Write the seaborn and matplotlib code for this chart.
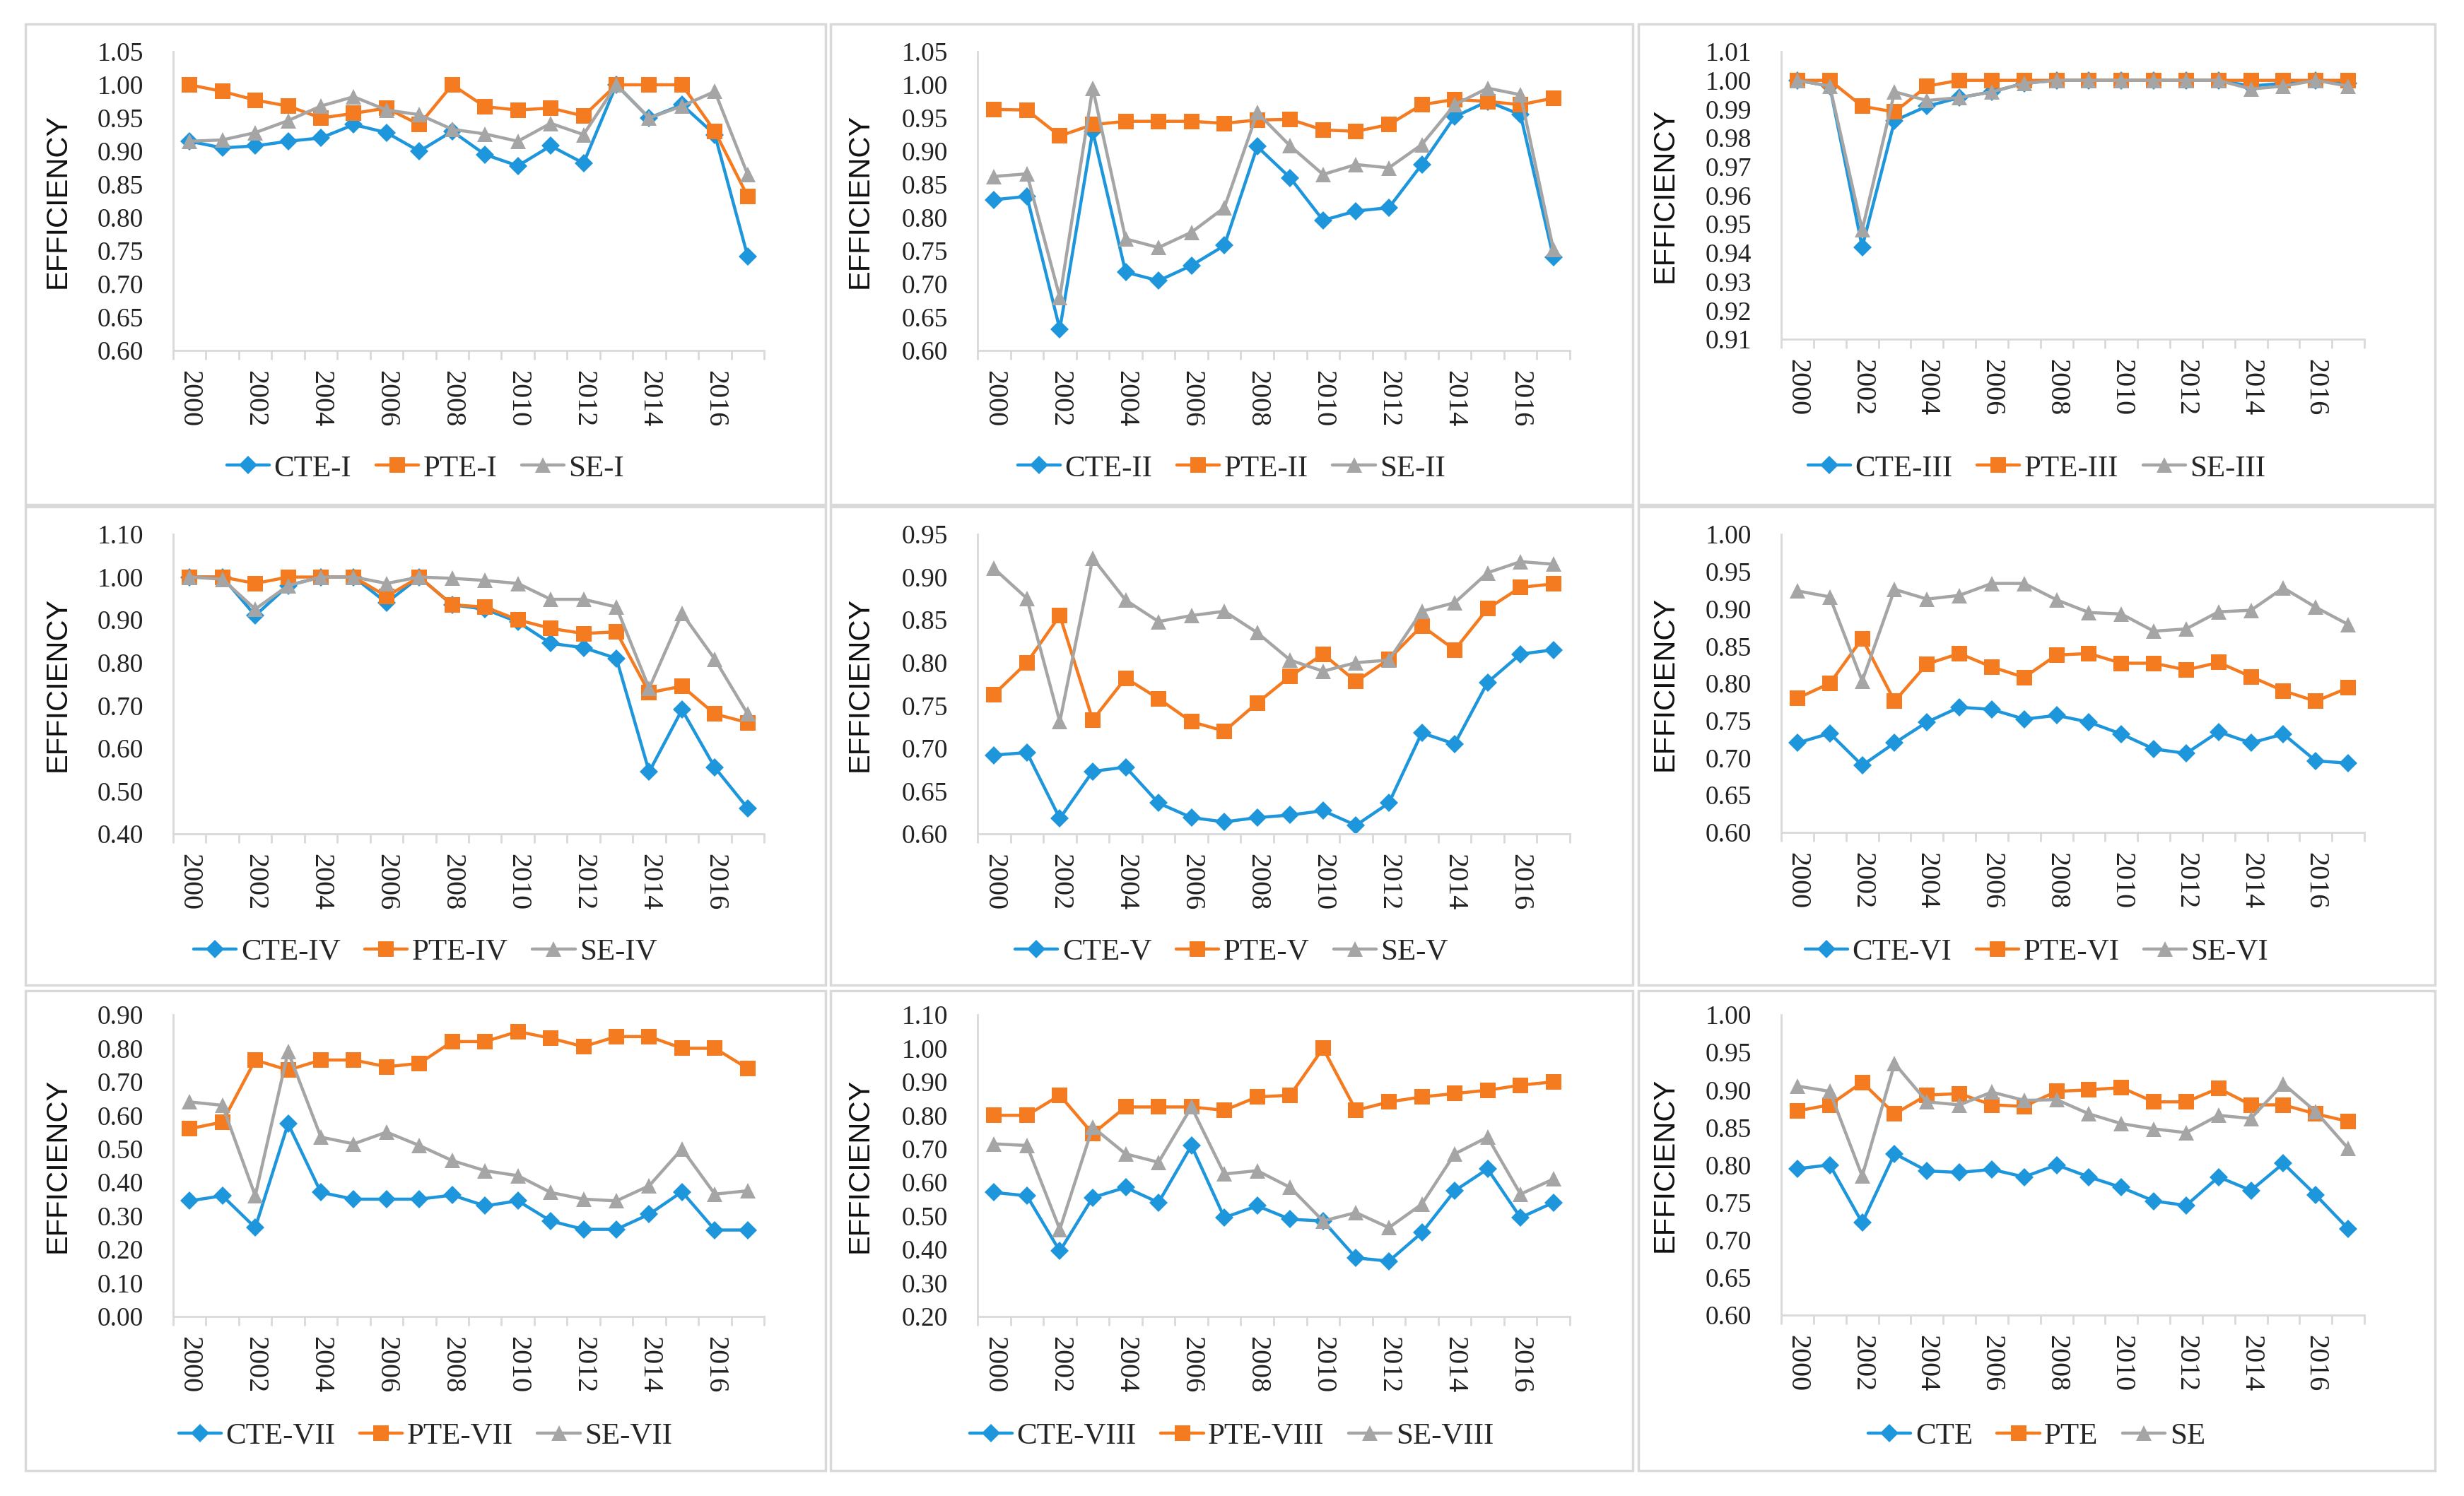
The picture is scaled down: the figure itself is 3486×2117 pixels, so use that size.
import numpy as np
import pandas as pd
import matplotlib
matplotlib.use("Agg")
import matplotlib.pyplot as plt
from matplotlib.patches import Rectangle
from matplotlib.ticker import FixedLocator, FormatStrFormatter
import seaborn as sns

years = list(range(2000, 2018))

cte_1 = [0.915, 0.905, 0.908, 0.915, 0.920, 0.940, 0.928, 0.900, 0.930, 0.895, 0.878, 0.908, 0.882, 1.000, 0.950, 0.970, 0.925, 0.742]
pte_1 = [1.000, 0.990, 0.977, 0.968, 0.950, 0.957, 0.965, 0.940, 1.000, 0.967, 0.962, 0.965, 0.953, 1.000, 1.000, 1.000, 0.930, 0.832]
se_1 = [0.915, 0.917, 0.928, 0.946, 0.968, 0.982, 0.962, 0.955, 0.933, 0.926, 0.915, 0.942, 0.925, 1.000, 0.950, 0.968, 0.990, 0.865]

cte_2 = [0.827, 0.832, 0.632, 0.930, 0.718, 0.705, 0.728, 0.758, 0.907, 0.860, 0.796, 0.810, 0.815, 0.880, 0.952, 0.975, 0.955, 0.740]
pte_2 = [0.963, 0.962, 0.923, 0.940, 0.945, 0.945, 0.945, 0.942, 0.947, 0.948, 0.932, 0.930, 0.940, 0.970, 0.978, 0.975, 0.970, 0.980]
se_2 = [0.862, 0.866, 0.680, 0.995, 0.768, 0.755, 0.778, 0.815, 0.958, 0.908, 0.865, 0.880, 0.875, 0.910, 0.970, 0.995, 0.985, 0.752]

cte_3 = [1.000, 0.998, 0.942, 0.986, 0.991, 0.994, 0.996, 0.999, 1.000, 1.000, 1.000, 1.000, 1.000, 1.000, 0.998, 0.999, 1.000, 0.999]
pte_3 = [1.000, 1.000, 0.991, 0.989, 0.998, 1.000, 1.000, 1.000, 1.000, 1.000, 1.000, 1.000, 1.000, 1.000, 1.000, 1.000, 1.000, 1.000]
se_3 = [1.000, 0.998, 0.948, 0.996, 0.993, 0.994, 0.996, 0.999, 1.000, 1.000, 1.000, 1.000, 1.000, 1.000, 0.997, 0.998, 1.000, 0.998]

cte_4 = [1.000, 1.000, 0.910, 0.980, 1.000, 1.000, 0.940, 1.000, 0.935, 0.925, 0.895, 0.845, 0.835, 0.810, 0.545, 0.690, 0.555, 0.460]
pte_4 = [1.000, 1.000, 0.985, 1.000, 1.000, 1.000, 0.955, 1.000, 0.935, 0.930, 0.900, 0.880, 0.868, 0.872, 0.730, 0.745, 0.680, 0.660]
se_4 = [1.000, 0.995, 0.925, 0.980, 1.000, 1.000, 0.985, 1.000, 0.997, 0.992, 0.985, 0.948, 0.948, 0.930, 0.740, 0.915, 0.808, 0.680]

cte_5 = [0.692, 0.695, 0.618, 0.673, 0.678, 0.636, 0.619, 0.614, 0.619, 0.622, 0.627, 0.610, 0.636, 0.718, 0.705, 0.777, 0.810, 0.815]
pte_5 = [0.763, 0.800, 0.855, 0.733, 0.782, 0.758, 0.731, 0.720, 0.753, 0.784, 0.810, 0.778, 0.804, 0.843, 0.815, 0.863, 0.888, 0.892]
se_5 = [0.910, 0.875, 0.731, 0.922, 0.873, 0.848, 0.855, 0.860, 0.835, 0.803, 0.790, 0.800, 0.803, 0.860, 0.870, 0.905, 0.918, 0.915]

cte_6 = [0.720, 0.733, 0.690, 0.720, 0.748, 0.768, 0.765, 0.752, 0.757, 0.748, 0.732, 0.712, 0.706, 0.735, 0.720, 0.732, 0.696, 0.693]
pte_6 = [0.780, 0.800, 0.860, 0.776, 0.826, 0.840, 0.822, 0.808, 0.838, 0.840, 0.827, 0.827, 0.818, 0.828, 0.809, 0.790, 0.776, 0.794]
se_6 = [0.924, 0.916, 0.803, 0.926, 0.913, 0.918, 0.934, 0.934, 0.912, 0.895, 0.893, 0.870, 0.873, 0.896, 0.898, 0.928, 0.902, 0.879]

cte_7 = [0.345, 0.360, 0.265, 0.575, 0.370, 0.350, 0.350, 0.350, 0.362, 0.330, 0.345, 0.285, 0.260, 0.260, 0.305, 0.372, 0.258, 0.258]
pte_7 = [0.560, 0.580, 0.765, 0.735, 0.765, 0.765, 0.745, 0.755, 0.820, 0.820, 0.850, 0.830, 0.805, 0.835, 0.835, 0.800, 0.800, 0.740]
se_7 = [0.640, 0.630, 0.360, 0.790, 0.535, 0.515, 0.550, 0.510, 0.465, 0.435, 0.420, 0.370, 0.350, 0.345, 0.390, 0.500, 0.365, 0.375]

cte_8 = [0.570, 0.560, 0.395, 0.555, 0.585, 0.540, 0.710, 0.495, 0.530, 0.490, 0.485, 0.375, 0.365, 0.450, 0.575, 0.640, 0.495, 0.540]
pte_8 = [0.800, 0.800, 0.860, 0.745, 0.825, 0.825, 0.825, 0.815, 0.855, 0.860, 1.000, 0.815, 0.840, 0.855, 0.865, 0.875, 0.890, 0.900]
se_8 = [0.715, 0.710, 0.460, 0.765, 0.685, 0.660, 0.825, 0.625, 0.635, 0.585, 0.485, 0.510, 0.465, 0.535, 0.685, 0.735, 0.565, 0.610]

cte_9 = [0.795, 0.800, 0.723, 0.815, 0.792, 0.790, 0.794, 0.784, 0.800, 0.784, 0.770, 0.752, 0.746, 0.784, 0.766, 0.802, 0.760, 0.715]
pte_9 = [0.872, 0.880, 0.910, 0.868, 0.893, 0.895, 0.880, 0.878, 0.898, 0.900, 0.903, 0.884, 0.884, 0.902, 0.880, 0.880, 0.868, 0.858]
se_9 = [0.905, 0.898, 0.785, 0.935, 0.884, 0.880, 0.897, 0.886, 0.887, 0.868, 0.855, 0.848, 0.843, 0.866, 0.862, 0.908, 0.871, 0.822]

suffixes = ["-I", "-II", "-III", "-IV", "-V", "-VI", "-VII", "-VIII", ""]
panel_series = [(cte_1, pte_1, se_1), (cte_2, pte_2, se_2), (cte_3, pte_3, se_3),
                (cte_4, pte_4, se_4), (cte_5, pte_5, se_5), (cte_6, pte_6, se_6),
                (cte_7, pte_7, se_7), (cte_8, pte_8, se_8), (cte_9, pte_9, se_9)]
y_ranges = [(0.60, 1.05, 0.05), (0.60, 1.05, 0.05), (0.91, 1.01, 0.01),
            (0.40, 1.10, 0.10), (0.60, 0.95, 0.05), (0.60, 1.00, 0.05),
            (0.00, 0.90, 0.10), (0.20, 1.10, 0.10), (0.60, 1.00, 0.05)]

sns.set_theme(style="white")
plt.rcParams["font.family"] = ["Liberation Serif", "DejaVu Serif"]

W, H = 3486, 2117
fig = plt.figure(figsize=(W / 100, H / 100), dpi=100)

col_l = [245, 1383, 2520]
col_r = [1081, 2221, 3345]
row_t = [73, 756, 1436]
row_b = [[496, 496, 480], [1180, 1180, 1178], [1863, 1863, 1861]]
box_x = [(36, 1168), (1175, 2310), (2318, 3445)]
box_y = [(34, 714), (717, 1394), (1402, 2081)]
legend_y = [663, 1347, 2032]
ylabel_x = [102, 1237, 2376]

colors = ["#1E96DC", "#F47B20", "#A5A5A5"]
markers = ["D", "s", "^"]
msizes = [13, 16, 16]
names = ["CTE", "PTE", "SE"]
grey = "#D9D9D9"

for r in range(3):
    for c in range(3):
        x0, x1 = box_x[c]
        y0, y1 = box_y[r]
        fig.patches.append(Rectangle((x0 / W, 1 - y1 / H), (x1 - x0) / W, (y1 - y0) / H,
                                     transform=fig.transFigure, fill=False,
                                     edgecolor=grey, linewidth=2.5, zorder=0))

for i in range(9):
    r, c = divmod(i, 3)
    left = col_l[c] / W
    bottom = 1 - row_b[r][c] / H
    width = (col_r[c] - col_l[c]) / W
    height = (row_b[r][c] - row_t[r]) / H
    ax = fig.add_axes([left, bottom, width, height])
    x = np.arange(len(years))
    rows = []
    for name, vals in zip(names, panel_series[i]):
        for xi, v in zip(x, vals):
            rows.append({"x": xi, "value": v, "series": name + suffixes[i]})
    df = pd.DataFrame(rows)
    for k, name in enumerate(names):
        lab = name + suffixes[i]
        sns.lineplot(data=df[df["series"] == lab], x="x", y="value", ax=ax,
                     color=colors[k], marker=markers[k], markersize=msizes[k],
                     markeredgecolor=colors[k], markeredgewidth=0, linewidth=3.2,
                     label=lab)
    ymin, ymax, step = y_ranges[i]
    ax.set_ylim(ymin, ymax)
    ax.set_xlim(-0.5, len(years) - 0.5)
    ticks = np.round(np.arange(ymin, ymax + step / 2, step), 3)
    ax.set_yticks(ticks)
    ax.yaxis.set_major_formatter(FormatStrFormatter("%.2f"))
    ax.set_xticks(x[::2])
    ax.set_xticklabels([str(y) for y in years[::2]], rotation=270)
    ax.xaxis.set_minor_locator(FixedLocator(np.arange(-0.5, len(years), 1.0)))
    ax.tick_params(axis="x", which="major", length=0, pad=20, labelsize=29, labelcolor="#222222")
    ax.tick_params(axis="x", which="minor", length=9, width=2, color=grey, direction="out", bottom=True)
    ax.tick_params(axis="y", which="major", length=0, pad=30, labelsize=27, labelcolor="#222222")
    for lbl in ax.get_xticklabels():
        lbl.set_verticalalignment("top")
    for s in ["top", "right"]:
        ax.spines[s].set_visible(False)
    for s in ["left", "bottom"]:
        ax.spines[s].set_color(grey)
        ax.spines[s].set_linewidth(2)
    ax.set_xlabel("")
    ax.set_ylabel("EFFICIENCY", fontsize=30, family=["Liberation Sans", "DejaVu Sans"], color="#111111")
    yc = 1 - (row_t[r] + row_b[r][c]) / 2 / H
    ax.yaxis.set_label_coords(ylabel_x[c] / W, yc, transform=fig.transFigure)
    ax.patch.set_alpha(0)
    cx = (box_x[c][0] + box_x[c][1]) / 2 / W
    cy = 1 - legend_y[r] / H
    ax.legend(loc="center", bbox_to_anchor=(cx, cy), bbox_transform=fig.transFigure,
              ncol=3, frameon=False, fontsize=31, handlelength=1.4, columnspacing=0.8,
              handletextpad=0.15, borderpad=0)

fig.savefig("out.png", dpi=100, facecolor="white")
